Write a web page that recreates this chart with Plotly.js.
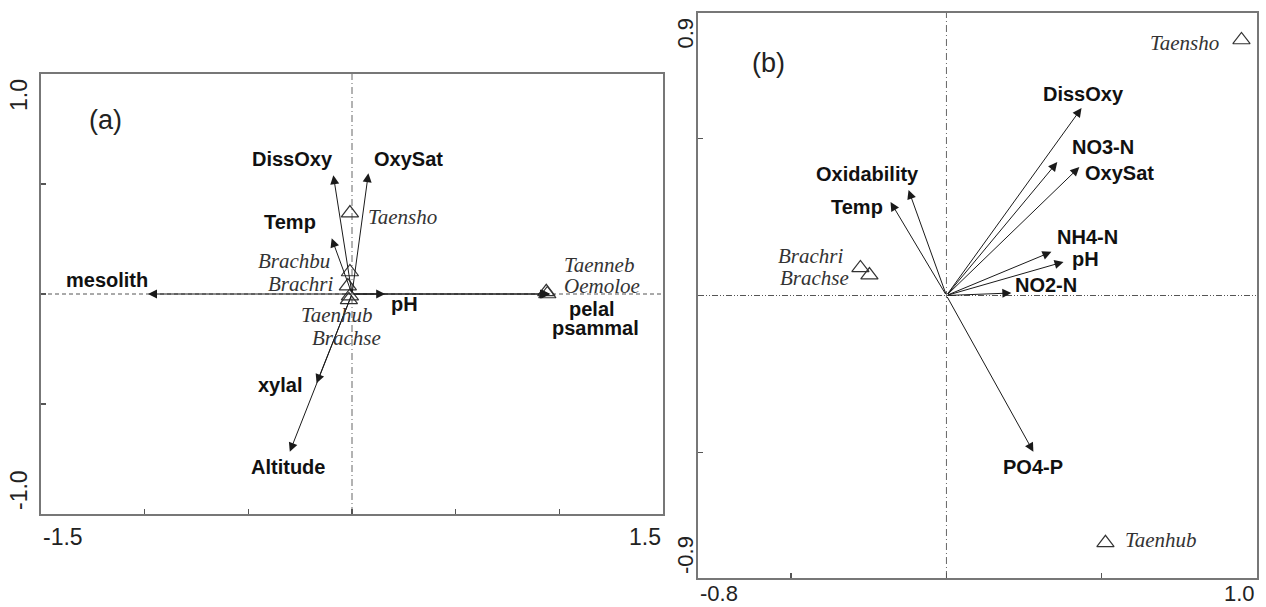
<!DOCTYPE html>
<html>
<head>
<meta charset="utf-8">
<script src="https://cdn.plot.ly/plotly-3.0.1.min.js"></script>
<style>html,body{margin:0;padding:0;background:#fff;}#chart{width:1266px;height:607px;}</style>
</head>
<body>
<div id="chart"></div>
<script>
// ---------- Panel (a) data ----------
const envA  = ['DissOxy','OxySat','Temp','pH','xylal','Altitude','mesolith','pelal','psammal'];
const envAx = [-0.090, 0.079, -0.098, 0.160, -0.171, -0.300, -0.984, 0.957, 0.950];
const envAy = [ 0.540, 0.549,  0.253, 0.000, -0.406, -0.717,  0.000, 0.000, 0.000];
const sppA  = ['Taensho','Brachbu','Brachri','Taenhub','Brachse','Taenneb','Oemoloe'];
const sppAx = [-0.010, -0.010, -0.020, -0.015, -0.010, 0.937, 0.942];
const sppAy = [ 0.368,  0.100,  0.036, -0.027, -0.010, 0.010, 0.000];
const xTicksA = [-1.5, -1.0, -0.5, 0, 0.5, 1.0, 1.5];
const yTicksA = [-1.0, -0.5, 0, 0.5, 1.0];
const xEndLabelsA = ['-1.5', '1.5'];
const yEndLabelsA = ['1.0', '-1.0'];

// ---------- Panel (b) data ----------
const envB  = ['DissOxy','NO3-N','OxySat','Oxidability','Temp','NH4-N','pH','NO2-N','PO4-P'];
const envBx = [0.435, 0.357, 0.428, -0.122, -0.180, 0.338, 0.377, 0.209,  0.280];
const envBy = [0.597, 0.425, 0.409,  0.336,  0.298, 0.139, 0.107, 0.008, -0.498];
const sppB  = ['Taensho','Brachri','Brachse','Taenhub'];
const sppBx = [0.950, -0.277, -0.248,  0.512];
const sppBy = [0.814,  0.088,  0.065, -0.788];
const xTicksB = [-0.5, 0, 0.5];
const yTicksB = [-0.5, 0, 0.5];
const xEndLabelsB = ['-0.8', '1.0'];
const yEndLabelsB = ['0.9', '-0.9'];

// ---------- label placement (pixel offsets: dx right, dy down) ----------
const envAOff = [[-41,-16],[40,-14],[-42,-16],[19,10],[-37,2],[-2,15],[-41,-14],[42,15],[47,34]];
const sppAOff = [[16,4,'left'],[-18,-11,'right'],[-13,-2,'right'],[-12,15,'center'],[-3,42,'center'],[16,-27,'left'],[15,-8,'left']];
const envBOff = [[2,-14],[46,-15],[40,6],[-41,-16],[-34,5],[36,-15],[22,-3],[35,-8],[0,15]];
const sppBOff = [[-20,3,'right'],[-15,-12,'right'],[-18,3,'right'],[18,-3,'left']];

const W = 1266, H = 607;
const boldFont = {family:'Liberation Sans, Arial, sans-serif', size:20, color:'#111'};
const sppFont  = {family:'Liberation Serif, Times New Roman, serif', size:21, color:'#333'};
const tickFont = {family:'Liberation Sans, Arial, sans-serif', size:23, color:'#222'};
const tickFontB = {family:'Liberation Sans, Arial, sans-serif', size:22, color:'#222'};
const panelFont = {family:'Liberation Sans, Arial, sans-serif', size:27, color:'#222'};

const annotations = [];
const shapes = [];

function addPanel(xr, yr, envN, envX, envY, envOff, sppN, sppX, sppY, sppOff, xEnd, yEnd, xlab, ylab, xend, yend, tag, hDash, tf) {
  envN.forEach((n, i) => {
    annotations.push({x: envX[i], y: envY[i], ax: 0, ay: 0, xref: xr, yref: yr, axref: xr, ayref: yr,
      showarrow: true, arrowhead: 2, arrowsize: 1.8, arrowwidth: 1, arrowcolor: '#1a1a1a', text: '', standoff: 0, startstandoff: 0});
  });
  envN.forEach((n, i) => {
    annotations.push({x: envX[i], y: envY[i], xref: xr, yref: yr, showarrow: false,
      text: '<b>' + n + '</b>', font: boldFont, xanchor: 'center', yanchor: 'middle',
      xshift: envOff[i][0], yshift: -envOff[i][1]});
  });
  sppN.forEach((n, i) => {
    annotations.push({x: sppX[i], y: sppY[i], xref: xr, yref: yr, showarrow: false,
      text: '<i>' + n + '</i>', font: sppFont, xanchor: sppOff[i][2], yanchor: 'middle',
      xshift: sppOff[i][0], yshift: -sppOff[i][1]});
  });
  annotations.push({x: xend[0], y: yend[0], xref: xr, yref: yr, showarrow: false, text: xlab[0], font: tf,
    xanchor: 'left', yanchor: 'middle', xshift: 0, yshift: -yEnd});
  annotations.push({x: xend[1], y: yend[0], xref: xr, yref: yr, showarrow: false, text: xlab[1], font: tf,
    xanchor: 'right', yanchor: 'middle', xshift: 0, yshift: -yEnd});
  annotations.push({x: xend[0], y: yend[1], xref: xr, yref: yr, showarrow: false, text: ylab[0], font: tf,
    textangle: -90, xanchor: 'center', yanchor: 'top', xshift: -xEnd, yshift: -3});
  annotations.push({x: xend[0], y: yend[0], xref: xr, yref: yr, showarrow: false, text: ylab[1], font: tf,
    textangle: -90, xanchor: 'center', yanchor: 'bottom', xshift: -xEnd, yshift: 2});
  annotations.push(tag);
  shapes.push({type: 'line', xref: xr, yref: yr, x0: 0, x1: 0, y0: yend[0], y1: yend[1],
    line: {color: '#666', width: 1, dash: '7px,3px,1px,3px'}, layer: 'below'});
  shapes.push({type: 'line', xref: xr, yref: yr, x0: xend[0], x1: xend[1], y0: 0, y1: 0,
    line: {color: '#555', width: 1, dash: hDash}, layer: 'below'});
}

addPanel('x', 'y', envA, envAx, envAy, envAOff, sppA, sppAx, sppAy, sppAOff, 22, 23,
  xEndLabelsA, yEndLabelsA, [-1.5, 1.5], [-1.0, 1.0],
  {xref: 'paper', yref: 'paper', x: 105 / W, y: 1 - 120 / H, text: '(a)', showarrow: false, font: panelFont, xanchor: 'center', yanchor: 'middle'},
  '4px,3px', tickFont);
addPanel('x2', 'y2', envB, envBx, envBy, envBOff, sppB, sppBx, sppBy, sppBOff, 13, 15,
  xEndLabelsB, yEndLabelsB, [-0.8, 1.0], [-0.9, 0.9],
  {xref: 'paper', yref: 'paper', x: 768 / W, y: 1 - 63 / H, text: '(b)', showarrow: false, font: panelFont, xanchor: 'center', yanchor: 'middle'},
  '6px,2px,1px,2px,1px,2px', tickFontB);

const triMarker = {symbol: 'triangle-up-open', size: 15, color: '#333', line: {width: 1.2, color: '#333'}};
const traces = [
  {type: 'scatter', mode: 'markers', x: sppAx, y: sppAy, xaxis: 'x', yaxis: 'y', marker: triMarker, hoverinfo: 'skip'},
  {type: 'scatter', mode: 'markers', x: sppBx, y: sppBy, xaxis: 'x2', yaxis: 'y2', marker: triMarker, hoverinfo: 'skip'}
];

const axBase = {showgrid: false, zeroline: false, showline: true, mirror: true, linecolor: '#777', linewidth: 2,
  ticks: 'inside', ticklen: 5, tickwidth: 1.5, tickcolor: '#555', showticklabels: false, fixedrange: true};

const layout = {
  width: W, height: H, margin: {l: 0, r: 0, t: 0, b: 0}, paper_bgcolor: '#fff', plot_bgcolor: '#fff',
  showlegend: false,
  xaxis:  Object.assign({}, axBase, {domain: [41 / W, 663 / W], range: [-1.5, 1.5], tickvals: xTicksA, anchor: 'y'}),
  yaxis:  Object.assign({}, axBase, {domain: [1 - 514 / H, 1 - 74 / H], range: [-1.0, 1.0], tickvals: yTicksA, anchor: 'x'}),
  xaxis2: Object.assign({}, axBase, {domain: [698 / W, 1257 / W], range: [-0.8, 1.0], tickvals: xTicksB, anchor: 'y2'}),
  yaxis2: Object.assign({}, axBase, {domain: [1 - 578 / H, 1 - 13 / H], range: [-0.9, 0.9], tickvals: yTicksB, anchor: 'x2'}),
  annotations: annotations,
  shapes: shapes
};

Plotly.newPlot('chart', traces, layout, {staticPlot: true, displayModeBar: false});
</script>
</body>
</html>
